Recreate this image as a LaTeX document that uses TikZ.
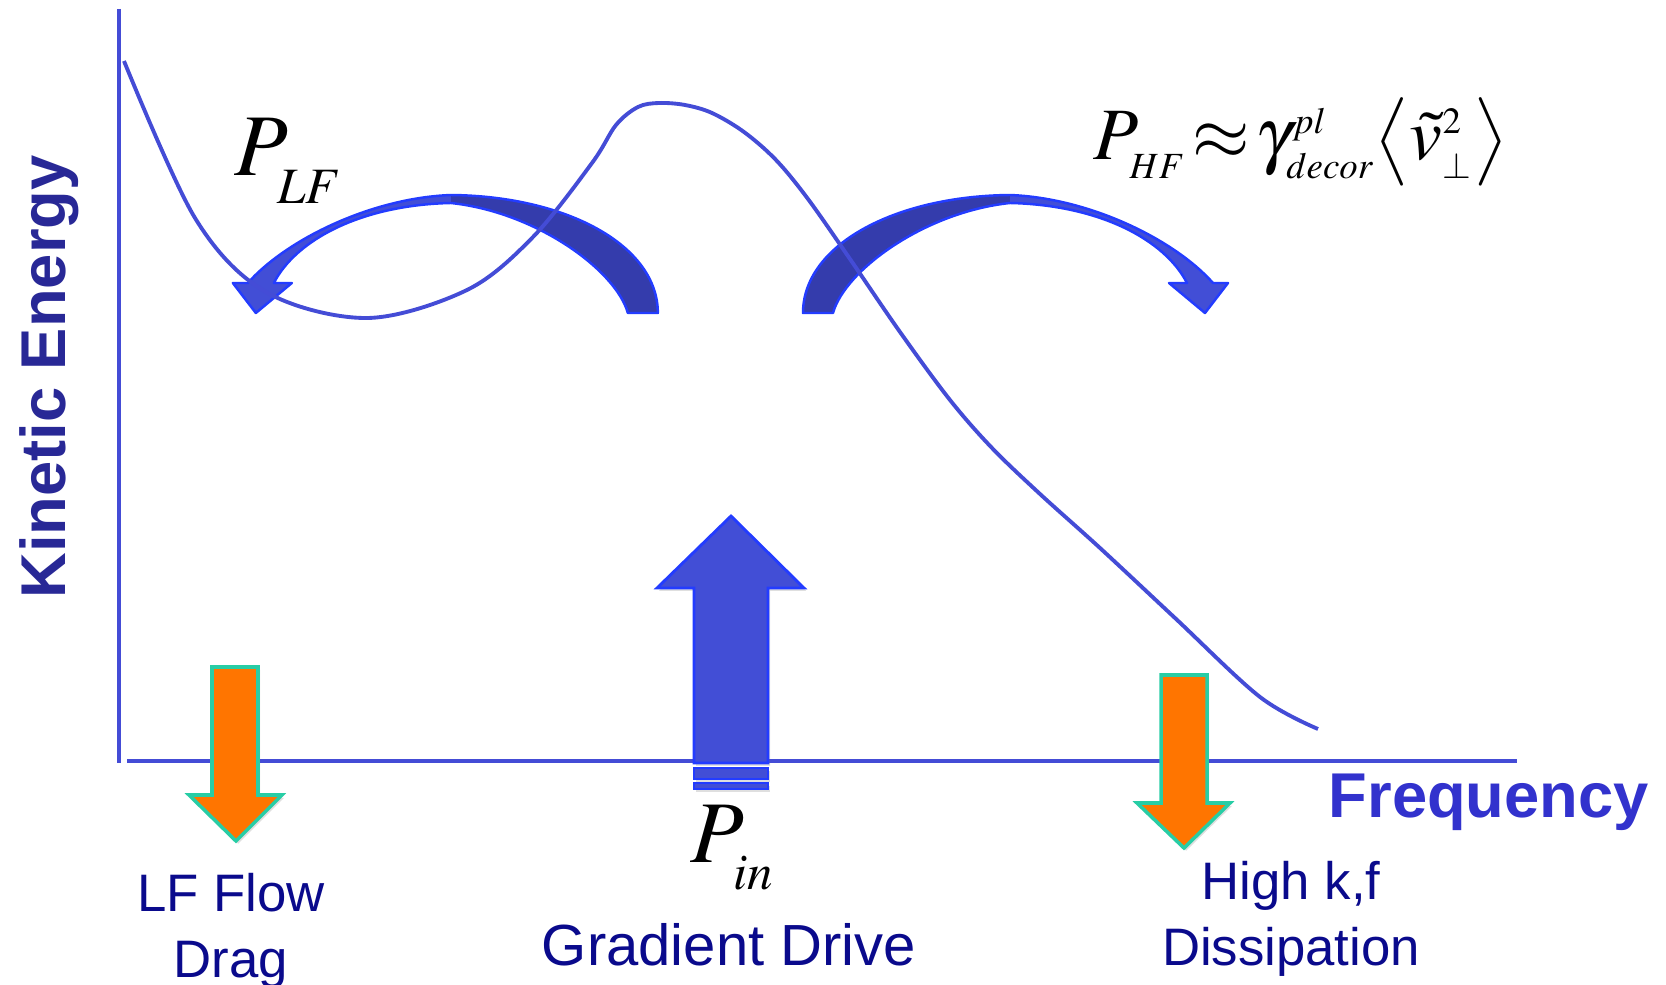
\documentclass[tikz,border=0pt]{standalone}
\usepackage{amsmath}
\usepackage{mathptmx}
\usepackage[no-math]{fontspec}
\setmainfont{Liberation Sans}
\usetikzlibrary{shadows}

\DeclareMathSizes{25}{25}{14.5}{10}
\DeclareMathSizes{21}{21}{10.5}{8}

\definecolor{curveblue}{RGB}{68,76,214}
\definecolor{arcblue}{RGB}{66,78,214}
\definecolor{arcdark}{RGB}{52,60,172}
\definecolor{rimblue}{RGB}{35,60,255}
\definecolor{axisnavy}{RGB}{40,40,150}
\definecolor{freqblue}{RGB}{50,50,205}
\definecolor{labelnavy}{RGB}{10,10,140}
\definecolor{dragorange}{RGB}{255,117,0}
\definecolor{rimteal}{RGB}{40,205,165}

% lowered subscript, as the equation editor sets it
\newcommand\lowsub[2][4pt]{\lower#1\hbox{$\scriptstyle #2$}}

% one curved cascade arrow (drawn to the right, mirrored for the left one)
\newcommand\cascadearc{%
  \fill[arcdark] (803,313) .. controls (803,245) and (895,196) .. (1010,195)
    -- (1010,203) .. controls (925,212) and (845,270) .. (833,313) -- cycle;
  \fill[arcblue] (1010,195) .. controls (1090,198) and (1175,240) .. (1213,283)
    -- (1228,283) -- (1205,313) -- (1169,283) -- (1187,283)
    .. controls (1165,240) and (1100,205) .. (1010,203) -- cycle;
  \draw[arcrim] (803,313) .. controls (803,245) and (895,196) .. (1010,195)
    .. controls (1090,198) and (1175,240) .. (1213,283)
    -- (1228,283) -- (1205,313) -- (1169,283) -- (1187,283)
    .. controls (1165,240) and (1100,205) .. (1010,203)
    .. controls (925,212) and (845,270) .. (833,313) -- cycle;
}

\begin{document}
\begin{tikzpicture}[
  x=0.01cm, y=-0.01cm,
  axisline/.style = {curveblue, line width=1.3pt},
  arcrim/.style   = {rimblue, line width=0.7pt, line join=round},
  blockarrow/.style = {
    fill=arcblue, draw=rimblue, line width=0.8pt,
    drop shadow={shadow xshift=0.6pt, shadow yshift=-0.8pt, opacity=0.25}
  },
  dragarrow/.style = {
    fill=dragorange, draw=rimteal, line width=1pt,
    drop shadow={shadow xshift=0.6pt, shadow yshift=-0.8pt, opacity=0.25}
  },
  lbl/.style = {
    text=labelnavy, align=center, inner sep=0pt,
    font=\fontsize{15}{18.6}\selectfont
  },
  mathlbl/.style = {anchor=base west, inner sep=0pt, font=\fontsize{25}{30}\selectfont}
]
\useasboundingbox (0,0) rectangle (1666,985);

% axes
\draw[axisline] (119,9) -- (119,763);
\draw[axisline] (127,761) -- (1517,761);

% cascade arrows
\cascadearc
\begin{scope}[xshift=14.6cm, xscale=-1]
  \cascadearc
\end{scope}

% drive arrow
\draw[blockarrow] (694,763) -- (694,588) -- (657,588) -- (731,516) -- (804,588)
  -- (768,588) -- (768,763) -- cycle;
\draw[blockarrow] (694,768) rectangle (768,779);
\draw[blockarrow] (694,783) rectangle (768,789);

% sink arrows
\draw[dragarrow] (212,667) -- (258,667) -- (258,795) -- (282,795) -- (236,841)
  -- (189,795) -- (212,795) -- cycle;
\draw[dragarrow] (1161,675) -- (1207,675) -- (1207,803) -- (1230,803) -- (1184,848)
  -- (1137,803) -- (1161,803) -- cycle;

% spectrum
\draw[curveblue, line width=1.1pt] plot[smooth, tension=0.55] coordinates {
  (124,61) (195,218) (266,292) (367,318) (467,290) (533,237) (592,163)
  (616,125) (638,107) (659,103) (685,105) (712,113) (744,132) (776,160)
  (808,199) (850,259) (900,332) (950,400) (992,448) (1040,494) (1100,548)
  (1175,618) (1260,697) (1318,729)};

% axis titles
\node[rotate=90, anchor=base, inner sep=0pt, text=axisnavy,
  font=\bfseries\fontsize{18}{22}\selectfont] (ylabel) at (65,377) {Kinetic Energy};
\node[anchor=base west, inner sep=0pt, text=freqblue,
  font=\bfseries\fontsize{18}{22}\selectfont] (xlabel) at (1328,817) {Frequency};

% powers
\node[mathlbl] (plf) at (234,176) {$P_{\lowsub{LF}}$};
\node[mathlbl, font=\fontsize{21}{26}\selectfont] (phf) at (1093,160)
  {$P_{\lowsub[2pt]{HF}}\mskip-2.5mu\approx\mskip-2.5mu\gamma^{pl}_{decor}\bigl\langle\tilde{v}_{\perp}^{2}\bigr\rangle$};
\node[mathlbl] (pin) at (690,862) {$P_{\lowsub{in}}$};

% bottom labels
\node[lbl, anchor=base] (lfdrag) at (231,977) {LF Flow\\Drag};
\node[lbl, anchor=base, font=\fontsize{16.5}{20}\selectfont] (gradlbl) at (729,965) {Gradient Drive};
\node[lbl, anchor=base] (hfdiss) at (1291,965) {High k,f\\Dissipation};

\end{tikzpicture}
\end{document}
